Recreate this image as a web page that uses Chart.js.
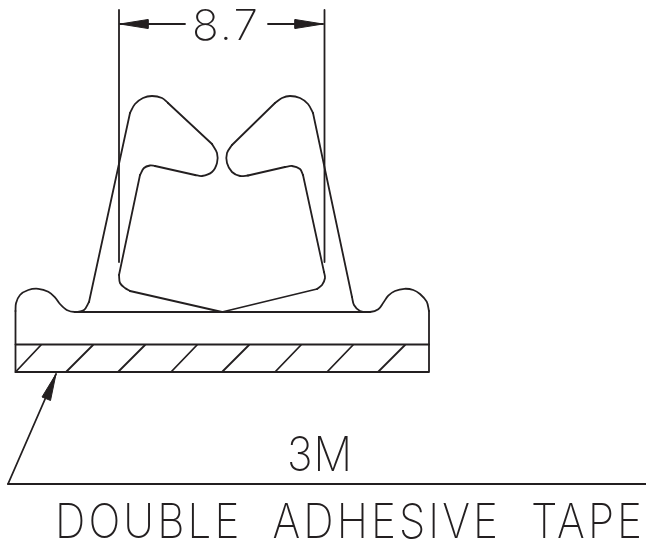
<!DOCTYPE html>
<html>
<head>
<meta charset="utf-8">
<style>
  html, body { margin: 0; padding: 0; background: #fff; overflow: hidden; }
  canvas { display: block; }
</style>
<script src="https://cdn.jsdelivr.net/npm/chart.js@4"></script>
</head>
<body>
<canvas id="drawing" width="646" height="543"></canvas>
<script>
// straight runs of the profile and of the dimension lines
const straightLines = [
  [[15.5, 311], [15.5, 372], [429, 372], [429, 311]],
  [[15.5, 344.5], [429, 344.5]],
  [[75, 312], [370, 312]],
  [[89, 302], [130, 113]],
  [[168, 103], [212, 144]],
  [[195, 175], [155, 166]],
  [[140, 175], [119, 275]],
  [[130, 291], [222, 312], [317, 289]],
  [[324, 272], [303, 175]],
  [[285, 167], [248, 175.5]],
  [[232, 145], [275, 103]],
  [[313, 113], [352, 297]],
  [[119, 10], [119, 262]],
  [[324.5, 10], [324.5, 262]],
  [[120, 24], [185, 24]],
  [[268, 24], [323, 24]],
  [[8, 484], [646, 484]],
  [[8, 484], [56, 374]]
];

const hatchLines = [
  [[15.5, 372], [41, 345]],
  [[66, 372], [93, 345]],
  [[118, 372], [145, 345]],
  [[171, 372], [197, 345]],
  [[222, 372], [249, 345]],
  [[275, 372], [301, 345]],
  [[327, 372], [353, 345]],
  [[378, 372], [405, 345]]
];

// rounded corners, read point by point
const curves = [
  [[15.5, 311], [16, 303.3], [20, 295], [28.3, 290], [38.3, 288.8], [48.3, 291.7], [55, 297.3], [60, 304], [66.7, 310], [75, 312], [84, 310], [89, 302]],
  [[130, 113], [135, 104], [143, 98], [152, 96], [162, 98], [168, 103]],
  [[212, 144], [217, 153], [217, 163], [212, 172], [202, 176], [195, 175]],
  [[155, 166], [150, 165.5], [144, 168], [140, 175]],
  [[119, 275], [120, 283], [125, 288], [130, 291]],
  [[317, 289], [322, 285], [325, 278], [324, 272]],
  [[303, 175], [300, 169], [292, 166], [285, 167]],
  [[248, 175.5], [240, 176], [232, 172], [227, 163], [227, 153], [232, 145]],
  [[275, 103], [282, 98], [290, 96], [300, 98], [308, 104], [313, 113]],
  [[352, 297], [354, 305], [360, 311], [370, 312], [378.3, 309.3], [383.3, 302.7], [388.3, 295.7], [395, 291], [404.3, 288.8], [413.3, 290], [420, 294], [426.7, 301.7], [429, 311]]
];

const arrowHeads = [
  [[120, 24], [148, 19.5], [148, 28.5], [120, 24]],
  [[323, 24], [295, 19.5], [295, 28.5], [323, 24]],
  [[56, 374], [42, 397], [50.5, 400.5], [56, 374]]
];

const textLabels = ['8.7', '3M', 'DOUBLE  ADHESIVE  TAPE'];
const textLeft = [192, 287, 55];
const textWidth = [66, 65, 587];
const textBase = [40, 471, 538];
const textSize = [42.5, 47.5, 47.5];
const textSpacing = [2, 1, 3.5];

const INK = '#231f20';

function points(list) {
  return list.map(p => ({ x: p[0], y: p[1] }));
}

function lineSet(list, tension) {
  return {
    data: points(list),
    showLine: true,
    borderColor: INK,
    borderWidth: 1.8,
    borderCapStyle: 'round',
    borderJoinStyle: 'round',
    pointRadius: 0,
    tension: tension,
    fill: false
  };
}

const datasets = [
  ...straightLines.map(l => lineSet(l, 0)),
  ...hatchLines.map(l => lineSet(l, 0)),
  ...curves.map(l => lineSet(l, 0.33)),
  ...arrowHeads.map(l => Object.assign(lineSet(l, 0), { fill: 'shape', backgroundColor: INK, borderWidth: 1 }))
];

// the lettering sits on the same scales as the lines, squeezed to the narrow drafting widths
const lettering = {
  id: 'lettering',
  afterDatasetsDraw(chart) {
    const ctx = chart.ctx;
    textLabels.forEach((t, i) => {
      ctx.save();
      ctx.fillStyle = INK;
      ctx.textAlign = 'left';
      ctx.textBaseline = 'alphabetic';
      ctx.font = '200 ' + textSize[i] + 'px Inter, Lato, sans-serif';
      ctx.letterSpacing = textSpacing[i] + 'px';
      const natural = ctx.measureText(t).width - textSpacing[i];
      ctx.translate(chart.scales.x.getPixelForValue(textLeft[i]), chart.scales.y.getPixelForValue(textBase[i]));
      ctx.scale(textWidth[i] / natural, 1);
      ctx.fillText(t, 0, 0);
      ctx.restore();
    });
  }
};

new Chart(document.getElementById('drawing').getContext('2d'), {
  type: 'scatter',
  data: { datasets: datasets },
  plugins: [lettering],
  options: {
    responsive: false,
    animation: false,
    layout: { padding: 0 },
    plugins: { legend: { display: false }, tooltip: { enabled: false } },
    scales: {
      x: { type: 'linear', display: false, min: 0, max: 646 },
      y: { type: 'linear', display: false, min: 0, max: 543, reverse: true }
    }
  }
});
</script>
</body>
</html>
